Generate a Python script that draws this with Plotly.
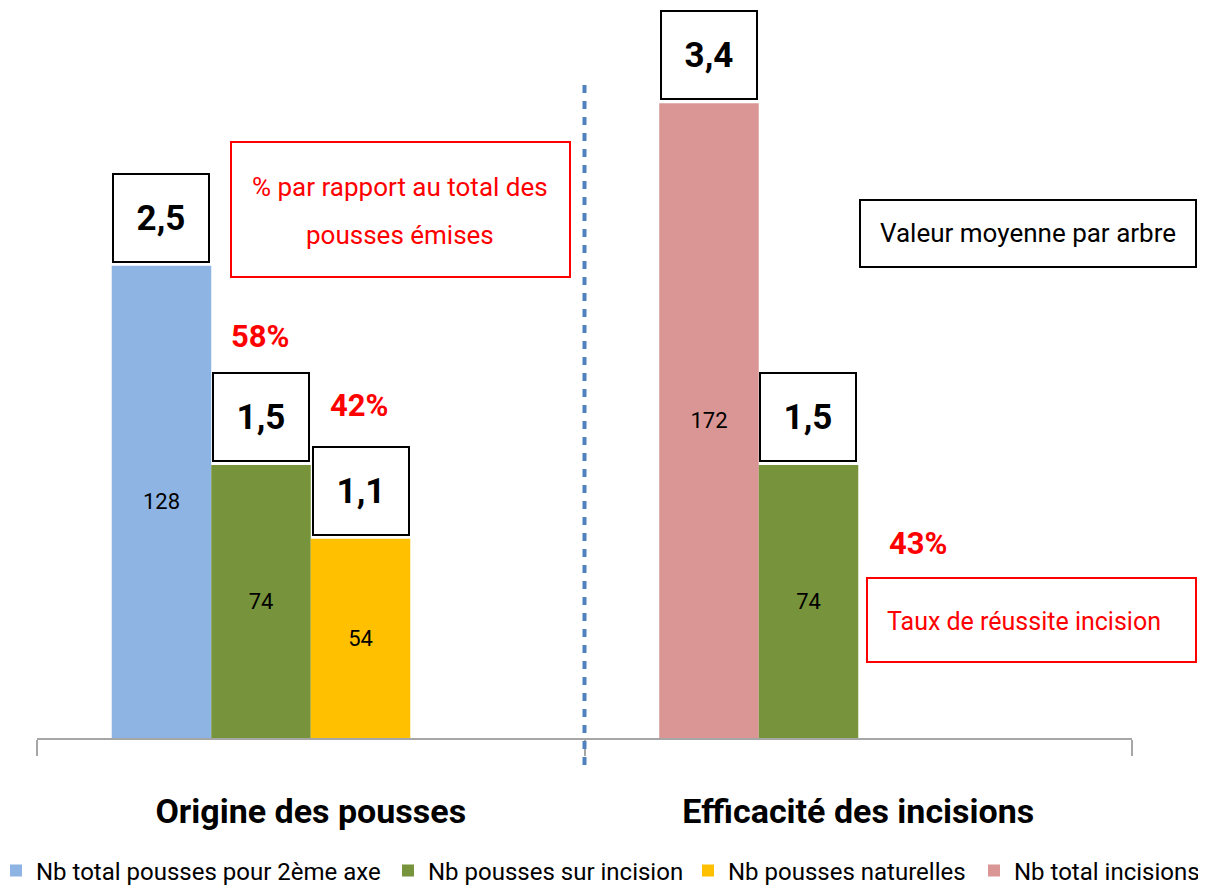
import plotly.graph_objects as go

# ---------------- data ----------------
categories = ["Origine des pousses", "Efficacité des incisions"]

# slot 0: total shoots (group 1) / total incisions (group 2)
slot0_values = [128, 172]
slot0_colors = ["#8EB4E3", "#D99694"]
# slot 1: shoots on incision
slot1_values = [74, 74]
# slot 2: natural shoots
slot2_values = [54, None]

series_names = ["Nb total pousses pour 2ème axe", "Nb pousses sur incision",
                "Nb pousses naturelles", "Nb total incisions"]
series_colors = ["#8EB4E3", "#77933C", "#FFC000", "#D99694"]

# mean values per tree (boxed labels)
mean_labels = ["2,5", "1,5", "1,1", "3,4", "1,5"]
mean_cat = [0, 0, 0, 1, 1]
mean_slot = [0, 1, 2, 0, 1]
mean_bar_values = [128, 74, 54, 172, 74]

pct_labels = ["58%", "42%", "43%"]
box_texts = ["% par rapport au total des", "pousses émises",
             "Valeur moyenne par arbre", "Taux de réussite incision"]

# ---------------- layout constants (reference pixel space) ----------------
OFF = 8                      # page body margin
W, H = 1206 - OFF, 893 - 2 * OFF
RL, RR, RT, RB = 37, 1132, 8, 738   # plot area in reference pixels
L, R, T, B = RL - OFF, RR - OFF, 0, RB - OFF
BARGAP = 0.273
FONT = "Roboto, Lato, sans-serif"
YMAX = 200 * (B - T) / (RB - 0)  # keep same px/unit as reference

def px_x(p):
    return (p - OFF - L) / (R - L)

def px_y(p):
    return (B - (p - OFF)) / (B - T)

slot_px = (R - L) / 2 * (1 - BARGAP) / 4

legend_keys = ["legend", "legend2", "legend3", "legend4"]
legend_left_x = [-4, 388, 688, 974]

fig = go.Figure()
lab_font = dict(family=FONT, size=22, color="black")
fig.add_bar(x=categories, y=slot0_values, marker=dict(color=slot0_colors, line=dict(width=0)),
            name=series_names[0], text=[str(v) for v in slot0_values], legend=legend_keys[0],
            textposition="inside", insidetextanchor="middle", textfont=lab_font, hoverinfo="skip")
fig.add_bar(x=categories, y=slot1_values, marker=dict(color=series_colors[1], line=dict(width=0)),
            name=series_names[1], text=[str(v) for v in slot1_values], legend=legend_keys[1],
            textposition="inside", insidetextanchor="middle", textfont=lab_font, hoverinfo="skip")
fig.add_bar(x=categories, y=slot2_values, marker=dict(color=series_colors[2], line=dict(width=0)),
            name=series_names[2], text=["" if v is None else str(v) for v in slot2_values],
            legend=legend_keys[2],
            textposition="inside", insidetextanchor="middle", textfont=lab_font, hoverinfo="skip")
fig.add_bar(x=categories, y=[0, 0], marker=dict(color=series_colors[3], line=dict(width=0)),
            name=series_names[3], legend=legend_keys[3], hoverinfo="skip")

annotations = []
for lab, c, s, v in zip(mean_labels, mean_cat, mean_slot, mean_bar_values):
    annotations.append(dict(
        x=categories[c], xref="x", y=v, yref="y",
        xshift=(s - 1.5) * slot_px, yshift=3, yanchor="bottom", xanchor="center",
        text=f"<b>{lab}</b>", showarrow=False,
        font=dict(family=FONT, size=35, color="black"),
        width=94, height=86, bgcolor="white", bordercolor="black", borderwidth=2, borderpad=0,
    ))

pct_pos = [(260, 336), (360, 405), (918, 543)]
for lab, (px, py) in zip(pct_labels, pct_pos):
    annotations.append(dict(x=px_x(px), y=px_y(py), xref="paper", yref="paper",
                            text=f"<b>{lab}</b>", showarrow=False,
                            font=dict(family=FONT, size=31, color="#FF0000"),
                            xanchor="center", yanchor="middle"))

# text inside the framed boxes
text_pos = [(400, 187, "center", "#FF0000", 26), (400, 235, "center", "#FF0000", 26),
            (878, 233, "left", "black", 26), (885, 621, "left", "#FF0000", 25)]
for t, (px, py, anc, col, sz) in zip(box_texts, text_pos):
    annotations.append(dict(x=px_x(px), y=px_y(py), xref="paper", yref="paper",
                            xanchor=anc, yanchor="middle", showarrow=False, text=t,
                            font=dict(family=FONT, size=sz, color=col)))

frames = [(231, 142, 570, 277, "#FF0000"), (860, 200, 1196, 267, "black"),
          (867, 578, 1196, 662, "#FF0000")]
shapes = []
for x0, y0, x1, y1, col in frames:
    shapes.append(dict(type="rect", xref="paper", yref="paper",
                       x0=px_x(x0), x1=px_x(x1), y0=px_y(y1), y1=px_y(y0),
                       line=dict(color=col, width=2), fillcolor="rgba(0,0,0,0)", layer="above"))

shapes.append(dict(type="line", xref="paper", yref="paper", x0=0.5, x1=0.5,
                   y0=px_y(765), y1=px_y(80),
                   line=dict(color="#4F81BD", width=4, dash="8px,8px")))

legends = {}
for key, lx in zip(legend_keys, legend_left_x):
    legends[key] = dict(orientation="h", x=px_x(lx), y=px_y(871),
                        xanchor="left", yanchor="middle", bgcolor="rgba(0,0,0,0)",
                        font=dict(family=FONT, size=24, color="black"), itemwidth=30)

fig.update_layout(
    width=W, height=H,
    margin=dict(l=L, r=W - R, t=T, b=H - B, autoexpand=False),
    barmode="group", bargap=BARGAP, bargroupgap=0,
    plot_bgcolor="white", paper_bgcolor="white",
    font=dict(family=FONT),
    showlegend=True,
    annotations=annotations, shapes=shapes,
    uniformtext=dict(mode="show", minsize=10),
    **legends,
)
fig.update_xaxes(type="category", showline=True, linecolor="#A6A6A6", linewidth=2,
                 ticks="outside", tickson="boundaries", ticklen=16, tickcolor="#A6A6A6", tickwidth=2,
                 tickfont=dict(family=FONT, size=34, color="black"),
                 ticklabelstandoff=42, showgrid=False,
                 tickvals=categories, ticktext=[f"<b>{c}</b>" for c in categories])
fig.update_yaxes(range=[0, YMAX], visible=False, showgrid=False)

fig.write_html("out.html")
